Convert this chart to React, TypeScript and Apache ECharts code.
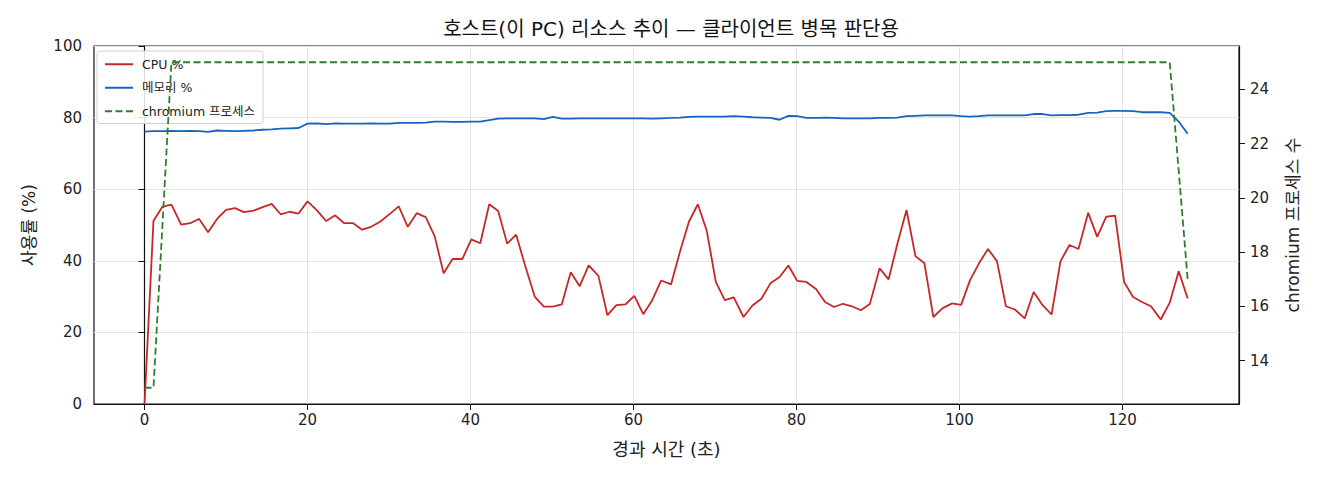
import React, { useEffect, useRef } from 'react';
import * as echarts from 'echarts';

// sample timestamps (s)
const elapsed = [
  0.0, 1.1, 2.2, 3.3, 4.5, 5.6, 6.7, 7.8, 8.9, 10.0, 11.1, 12.2, 13.4, 14.5, 15.6, 16.7, 17.8, 18.9, 20.0, 21.1,
  22.3, 23.4, 24.5, 25.6, 26.7, 27.8, 28.9, 30.1, 31.2, 32.3, 33.4, 34.5, 35.6, 36.7, 37.8, 39.0, 40.1, 41.2, 42.3, 43.4,
  44.5, 45.6, 46.7, 47.9, 49.0, 50.1, 51.2, 52.3, 53.4, 54.5, 55.7, 56.8, 57.9, 59.0, 60.1, 61.2, 62.3, 63.4, 64.6, 65.7,
  66.8, 67.9, 69.0, 70.1, 71.2, 72.3, 73.5, 74.6, 75.7, 76.8, 77.9, 79.0, 80.1, 81.2, 82.4, 83.5, 84.6, 85.7, 86.8, 87.9,
  89.0, 90.2, 91.3, 92.4, 93.5, 94.6, 95.7, 96.8, 97.9, 99.1, 100.2, 101.3, 102.4, 103.5, 104.6, 105.7, 106.8, 108.0, 109.1, 110.2,
  111.3, 112.4, 113.5, 114.6, 115.8, 116.9, 118.0, 119.1, 120.2, 121.3, 122.4, 123.5, 124.7, 125.8, 126.9, 128.0,
];

const cpuPct = [
  0, 51.2, 55.1, 55.7, 50.1, 50.5, 51.7, 48.0, 51.7, 54.2, 54.7, 53.6, 54.0, 55.0, 55.9, 53.0, 53.7, 53.2, 56.6, 54.2,
  51.1, 52.7, 50.5, 50.5, 48.7, 49.5, 50.9, 53.1, 55.2, 49.5, 53.3, 52.2, 46.9, 36.5, 40.5, 40.5, 46.0, 44.9, 55.8, 53.9,
  44.8, 47.3, 38.7, 29.9, 27.2, 27.2, 27.8, 36.8, 32.9, 38.7, 35.8, 24.8, 27.6, 27.8, 30.2, 25.1, 29.0, 34.5, 33.4, 42.5,
  50.9, 55.8, 48.3, 34.1, 29.0, 29.8, 24.3, 27.5, 29.4, 33.7, 35.4, 38.7, 34.4, 34.1, 32.1, 28.5, 27.1, 28.0, 27.3, 26.2,
  27.9, 37.9, 34.8, 44.9, 54.2, 41.3, 39.3, 24.3, 26.7, 28.1, 27.7, 34.6, 39.3, 43.3, 39.9, 27.3, 26.4, 23.9, 31.3, 27.6,
  25.0, 39.9, 44.4, 43.3, 53.4, 46.7, 52.3, 52.6, 34.1, 29.9, 28.5, 27.3, 23.6, 28.3, 37.1, 29.5,
];

const memPct = [
  76.1, 76.2, 76.2, 76.3, 76.2, 76.3, 76.2, 76.0, 76.4, 76.3, 76.2, 76.3, 76.4, 76.6, 76.7, 76.9, 77.0, 77.1, 78.3, 78.4,
  78.2, 78.4, 78.3, 78.3, 78.3, 78.4, 78.3, 78.3, 78.5, 78.5, 78.5, 78.6, 78.9, 78.9, 78.8, 78.8, 78.9, 78.9, 79.3, 79.7,
  79.8, 79.8, 79.8, 79.8, 79.6, 80.2, 79.7, 79.7, 79.8, 79.8, 79.8, 79.8, 79.8, 79.8, 79.8, 79.8, 79.7, 79.8, 79.9, 80.0,
  80.2, 80.3, 80.3, 80.3, 80.3, 80.4, 80.3, 80.1, 80.0, 79.9, 79.4, 80.5, 80.4, 79.9, 79.9, 80.0, 79.9, 79.8, 79.8, 79.8,
  79.8, 79.9, 79.9, 80.0, 80.4, 80.5, 80.6, 80.6, 80.6, 80.6, 80.4, 80.3, 80.4, 80.6, 80.6, 80.6, 80.6, 80.6, 81.0, 81.0,
  80.6, 80.7, 80.7, 80.8, 81.3, 81.4, 81.8, 81.9, 81.9, 81.8, 81.5, 81.5, 81.5, 81.3, 78.9, 75.5,
];

const chromiumProcs = [
  13, 13, 19, 25, 25, 25, 25, 25, 25, 25, 25, 25, 25, 25, 25, 25, 25, 25, 25, 25,
  25, 25, 25, 25, 25, 25, 25, 25, 25, 25, 25, 25, 25, 25, 25, 25, 25, 25, 25, 25,
  25, 25, 25, 25, 25, 25, 25, 25, 25, 25, 25, 25, 25, 25, 25, 25, 25, 25, 25, 25,
  25, 25, 25, 25, 25, 25, 25, 25, 25, 25, 25, 25, 25, 25, 25, 25, 25, 25, 25, 25,
  25, 25, 25, 25, 25, 25, 25, 25, 25, 25, 25, 25, 25, 25, 25, 25, 25, 25, 25, 25,
  25, 25, 25, 25, 25, 25, 25, 25, 25, 25, 25, 25, 25, 25, 21, 17,
];

const xTicks = [0, 20, 40, 60, 80, 100, 120];
const procTicks = [14, 16, 18, 20, 22, 24];

// latin glyphs from DejaVu (wide, like the original), hangul falls back to Noto CJK
const FONT = '"DejaVu Sans", "Noto Sans CJK KR", sans-serif';

const pairs = (ys: number[]) => ys.map((y, i) => [elapsed[i], y]);

const App: React.FC = () => {
  const chartRef = useRef<HTMLDivElement>(null);

  useEffect(() => {
    if (!chartRef.current) return;
    const chart = echarts.init(chartRef.current, null, { renderer: 'svg' });

    const tickText = { fontFamily: FONT, fontSize: 15, color: '#222' };
    const nameText = { fontFamily: FONT, fontSize: 17, color: '#222' };

    const option = {
      animation: false,
      backgroundColor: '#fff',
      textStyle: { fontFamily: FONT },
      title: {
        text: '호스트(이 PC) 리소스 추이 — 클라이언트 병목 판단용',
        left: 666,
        top: 14,
        textAlign: 'center',
        textStyle: { fontFamily: FONT, fontSize: 20, fontWeight: 'normal', color: '#111' },
      },
      grid: {
        left: 94,
        right: 81,
        top: 46,
        bottom: 76,
        show: true,
        borderColor: '#111',
        borderWidth: 1.2,
        backgroundColor: 'transparent',
      },
      legend: {
        orient: 'vertical',
        left: 97,
        top: 51,
        itemWidth: 28,
        itemHeight: 12,
        itemGap: 11,
        padding: [7, 8, 6, 7],
        backgroundColor: 'rgba(255,255,255,0.85)',
        borderColor: '#d0d0d0',
        borderWidth: 1,
        borderRadius: 3,
        // hide the marker the line-series legend icon puts in the middle
        itemStyle: { opacity: 0 },
        textStyle: { fontFamily: FONT, fontSize: 12.5, color: '#222', padding: [0, 0, 0, 4] },
        data: ['CPU %', '메모리 %', 'chromium 프로세스'],
      },
      xAxis: {
        type: 'value',
        min: -6.2,
        max: 134.3,
        name: '경과 시간 (초)',
        nameLocation: 'middle',
        nameGap: 36,
        nameTextStyle: { ...nameText, fontSize: 18 },
        axisLine: { show: true, onZero: false, lineStyle: { color: '#111', width: 1.2 } },
        axisTick: { show: true, length: 6, customValues: xTicks, lineStyle: { color: '#111' } },
        axisLabel: { ...tickText, customValues: xTicks, margin: 8 },
        splitLine: { show: true, lineStyle: { color: '#e4e4e4', width: 1 } },
      },
      yAxis: [
        {
          type: 'value',
          min: 0,
          max: 100,
          interval: 20,
          position: 'left',
          name: '사용률 (%)',
          nameLocation: 'middle',
          nameRotate: 90,
          nameGap: 57,
          nameTextStyle: nameText,
          axisLine: { show: true, lineStyle: { color: '#111', width: 1.2 } },
          axisTick: { show: true, length: 6, lineStyle: { color: '#111' } },
          axisLabel: { ...tickText, margin: 12 },
          splitLine: { show: true, lineStyle: { color: '#e4e4e4', width: 1 } },
        },
        {
          type: 'value',
          min: 12.4,
          max: 25.6,
          position: 'right',
          name: 'chromium 프로세스 수',
          nameLocation: 'middle',
          nameRotate: 90,
          nameGap: 45,
          nameTextStyle: nameText,
          axisLine: { show: true, lineStyle: { color: '#111', width: 1.2 } },
          axisTick: { show: true, length: 6, customValues: procTicks, lineStyle: { color: '#111' } },
          axisLabel: { ...tickText, customValues: procTicks, margin: 11 },
          splitLine: { show: false },
        },
      ],
      series: [
        {
          name: 'CPU %',
          type: 'line',
          yAxisIndex: 0,
          symbol: 'none',
          data: pairs(cpuPct),
          lineStyle: { color: '#c62828', width: 1.8 },
          itemStyle: { color: '#c62828' },
          z: 3,
        },
        {
          name: '메모리 %',
          type: 'line',
          yAxisIndex: 0,
          symbol: 'none',
          data: pairs(memPct),
          lineStyle: { color: '#1565c0', width: 1.8 },
          itemStyle: { color: '#1565c0' },
          z: 3,
        },
        {
          name: 'chromium 프로세스',
          type: 'line',
          yAxisIndex: 1,
          symbol: 'none',
          data: pairs(chromiumProcs),
          lineStyle: { color: '#2e7d32', width: 1.8, type: [7, 3.5] },
          itemStyle: { color: '#2e7d32' },
          z: 4,
        },
      ],
    };

    chart.setOption(option);

    const onResize = () => chart.resize();
    window.addEventListener('resize', onResize);
    return () => {
      window.removeEventListener('resize', onResize);
      chart.dispose();
    };
  }, []);

  return (
    <div
      ref={chartRef}
      style={{ position: 'fixed', left: 0, top: 0, width: '1320px', height: '480px' }}
    />
  );
};

export default App;
